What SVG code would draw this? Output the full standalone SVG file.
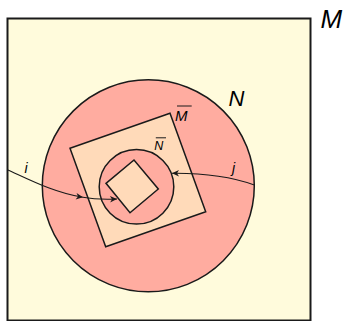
<svg xmlns="http://www.w3.org/2000/svg" width="348" height="321" viewBox="0 0 348 321">
<defs>
<style>
.lbl{font-family:"Liberation Sans",Arial,sans-serif;font-style:italic;fill:#000}
.ln{fill:none;stroke:#1a1a1a;stroke-width:1.1}
.bar{stroke:#1a1a1a;stroke-width:1}
.sal{fill:#ffaca0;stroke:#1a1a1a;stroke-width:1.5}
.pch{fill:#ffdab9;stroke:#1a1a1a;stroke-width:1.5}
</style>
<marker id="ah" viewBox="-8 -4 10 8" markerWidth="10" markerHeight="8" refX="0" refY="0" orient="auto" markerUnits="userSpaceOnUse">
<path d="M0,0 L-7,-3.2 L-5,0 L-7,3.2 Z" fill="#1a1a1a"/>
</marker>
</defs>
<g id="M">
<rect x="7.5" y="18.5" width="303" height="302" fill="#fffbdc" stroke="#1a1a1a" stroke-width="2"/>
<text class="lbl" x="320.5" y="27.7" font-size="26">M</text>
</g>
<g id="N">
<circle cx="148.3" cy="185.8" r="106" class="sal"/>
<text class="lbl" x="228.5" y="106" font-size="22">N</text>
</g>
<g id="Mbar">
<polygon points="70,148.3 170,113.3 205.7,211.7 105.7,246.7" class="pch"/>
<text class="lbl" x="175" y="121" font-size="15">M</text>
<line x1="177" y1="106" x2="191.7" y2="106" class="bar"/>
</g>
<g id="Nbar">
<circle cx="136.5" cy="186.8" r="37.3" class="sal"/>
<text class="lbl" x="154.3" y="150.3" font-size="12.5">N</text>
<line x1="155.8" y1="137.8" x2="166" y2="137.8" class="bar"/>
</g>
<g id="inner">
<polygon points="106,183.3 134,160 158.3,189 130,212.7" class="pch"/>
</g>
<g id="connectors">
<path class="ln" d="M8,170 C30,180 55,193 83,197.3" marker-end="url(#ah)"/>
<path class="ln" d="M83,197.3 C95,199.5 105,199.5 117,199" marker-end="url(#ah)"/>
<text class="lbl" x="24.5" y="173" font-size="14">i</text>
<path class="ln" d="M254.3,185 C232,177 205,173 172,173.3" marker-end="url(#ah)"/>
<text class="lbl" x="232" y="173" font-size="14">j</text>
</g>
</svg>
